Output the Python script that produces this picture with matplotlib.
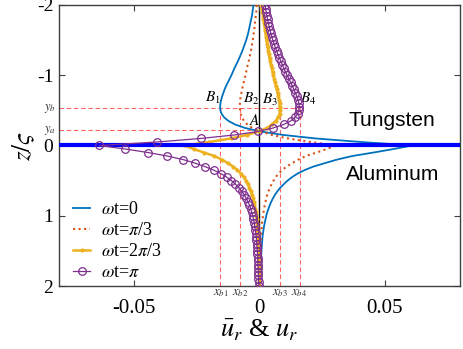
import numpy as np
import matplotlib
matplotlib.use("AGG")
from matplotlib import pyplot as plt

plt.rcParams['font.family'] = 'serif'
plt.rcParams['font.serif'] = ['Liberation Serif', 'DejaVu Serif']
plt.rcParams['mathtext.fontset'] = 'stix'
plt.rcParams['axes.unicode_minus'] = False

# depth z/zeta, sampled every 0.05 from -2 (top) to 2 (bottom)
z = np.round(np.arange(-40, 41) * 0.05, 2)

# radial displacement (upper half = tungsten, lower half = aluminum)
u_0 = [-0.0024, -0.0026, -0.0028, -0.0030, -0.0033, -0.0036, -0.0039, -0.0042, -0.0045, -0.0049,
       -0.0053, -0.0058, -0.0063, -0.0068, -0.0074, -0.0080, -0.0086, -0.0093, -0.0100, -0.0106,
       -0.0112, -0.0119, -0.0126, -0.0133, -0.0139, -0.0144, -0.0149, -0.0153, -0.0156, -0.0157,
       -0.0156, -0.0151, -0.0141, -0.0124, -0.0098, -0.0058, 0.0004, 0.0095, 0.0225, 0.0405, 0.0610,
       0.0535, 0.0455, 0.0370, 0.0310, 0.0262, 0.0215, 0.0180, 0.0152, 0.0130, 0.0112,
       0.0097, 0.0083, 0.0072, 0.0062, 0.0054, 0.0047, 0.0041, 0.0036, 0.0031, 0.0027,
       0.0024, 0.0021, 0.0018, 0.0016, 0.0014, 0.0012, 0.0011, 0.0010, 0.0009, 0.0008,
       0.0007, 0.0006, 0.0005, 0.0005, 0.0004, 0.0004, 0.0003, 0.0003, 0.0002, 0.0002]

u_pi3 = [-0.0011, -0.0012, -0.0013, -0.0015, -0.0016, -0.0018, -0.0019, -0.0021, -0.0023, -0.0025,
         -0.0027, -0.0029, -0.0032, -0.0034, -0.0037, -0.0040, -0.0043, -0.0047, -0.0050, -0.0053,
         -0.0056, -0.0060, -0.0063, -0.0066, -0.0070, -0.0072, -0.0075, -0.0077, -0.0078, -0.0079,
         -0.0078, -0.0075, -0.0070, -0.0062, -0.0049, -0.0029, 0.0003, 0.0050, 0.0115, 0.0203, 0.0305,
         0.0268, 0.0228, 0.0185, 0.0155, 0.0131, 0.0108, 0.0090, 0.0076, 0.0065, 0.0056,
         0.0048, 0.0042, 0.0036, 0.0031, 0.0027, 0.0024, 0.0021, 0.0018, 0.0016, 0.0014,
         0.0012, 0.0010, 0.0009, 0.0008, 0.0007, 0.0006, 0.0005, 0.0005, 0.0004, 0.0004,
         0.0003, 0.0003, 0.0003, 0.0002, 0.0002, 0.0002, 0.0002, 0.0001, 0.0001, 0.0001]

u_2pi3 = [0.0008, 0.0010, 0.0012, 0.0014, 0.0016, 0.0018, 0.0020, 0.0022, 0.0024, 0.0026,
          0.0028, 0.0030, 0.0032, 0.0035, 0.0037, 0.0040, 0.0043, 0.0046, 0.0049, 0.0052,
          0.0055, 0.0059, 0.0062, 0.0065, 0.0069, 0.0072, 0.0075, 0.0078, 0.0080, 0.0081,
          0.0081, 0.0080, 0.0074, 0.0065, 0.0050, 0.0030, -0.0002, -0.0050, -0.0115, -0.0200, -0.0300,
          -0.0262, -0.0222, -0.0180, -0.0150, -0.0127, -0.0105, -0.0088, -0.0074, -0.0063, -0.0054,
          -0.0047, -0.0040, -0.0035, -0.0030, -0.0026, -0.0023, -0.0020, -0.0017, -0.0015, -0.0013,
          -0.0011, -0.0010, -0.0009, -0.0008, -0.0007, -0.0006, -0.0005, -0.0004, -0.0004, -0.0003,
          -0.0003, -0.0003, -0.0002, -0.0002, -0.0002, -0.0001, -0.0001, -0.0001, -0.0001, -0.0001]

u_pi = [0.0022, 0.0024, 0.0027, 0.0029, 0.0032, 0.0035, 0.0038, 0.0041, 0.0045, 0.0049,
        0.0053, 0.0058, 0.0063, 0.0068, 0.0073, 0.0079, 0.0085, 0.0091, 0.0097, 0.0103,
        0.0110, 0.0117, 0.0124, 0.0131, 0.0137, 0.0143, 0.0149, 0.0154, 0.0157, 0.0159,
        0.0157, 0.0152, 0.0142, 0.0125, 0.0097, 0.0055, -0.0005, -0.0100, -0.0235, -0.0408, -0.0640,
        -0.0535, -0.0445, -0.0368, -0.0305, -0.0258, -0.0218, -0.0183, -0.0154, -0.0131, -0.0112,
        -0.0096, -0.0082, -0.0071, -0.0061, -0.0053, -0.0046, -0.0040, -0.0035, -0.0031, -0.0027,
        -0.0024, -0.0021, -0.0019, -0.0017, -0.0015, -0.0013, -0.0012, -0.0011, -0.0010, -0.0009,
        -0.0008, -0.0007, -0.0007, -0.0006, -0.0005, -0.0005, -0.0004, -0.0004, -0.0003, -0.0003]

# marked points
x_b = [-0.0156, -0.0078, 0.0081, 0.0160]
x_b_labels = [r'$x_{b1}$', r'$x_{b2}$', r'$x_{b3}$', r'$x_{b4}$']
y_b = -0.53
y_a = -0.217

fig = plt.figure(figsize=(4.63, 3.49), dpi=100)
ax = fig.add_axes([0.1274, 0.1805, 0.8661, 0.8052])

ax.axvline(0, color='k', lw=1.0, zorder=1)

dash = dict(color='#ff6464', lw=0.8, ls=(0, (4, 2.5)), zorder=1)
ax.plot([-0.08, x_b[3]], [y_b, y_b], **dash)
ax.plot([-0.08, 0.0], [y_a, y_a], **dash)
for xb in x_b:
    ax.plot([xb, xb], [y_b, 2], **dash)

ax.plot(u_0, z, color='#0072BD', lw=1.3, label=r'$\omega$t=0', zorder=3)
ax.plot(u_pi3, z, color='#D95319', lw=1.5, ls=':', label=r'$\omega$t=$\pi$/3', zorder=3)
ax.plot(u_2pi3, z, color='#EDB120', lw=1.8, marker='.', ms=4, label=r'$\omega$t=2$\pi$/3', zorder=3)
ax.axhline(0, color='#0000FF', lw=3, zorder=4)
ax.plot(u_pi, z, color='#7E2F8E', lw=0.9, marker='o', ms=5.5, mfc='none', mew=0.9,
        label=r'$\omega$t=$\pi$', zorder=5)

ax.set_xlim(-0.08, 0.08)
ax.set_ylim(2, -2)
ax.set_xticks([-0.05, 0, 0.05])
ax.set_xticklabels(['-0.05', '0', '0.05'])
ax.set_yticks([-2, -1, 0, 1, 2])
ax.tick_params(direction='in', length=4, width=0.8, top=True, right=True, color='#404040')
ax.tick_params(axis='x', pad=9, labelsize=15)
ax.tick_params(axis='y', pad=4, labelsize=14)
for s in ax.spines.values():
    s.set_color('#404040')
    s.set_linewidth(1.0)

ax.set_xlabel(r'$\bar{u}_r$ & $u_r$', fontsize=19, labelpad=0)
ax.set_ylabel(r'$z/\varsigma$', fontsize=18, labelpad=0)

# point labels
lab = dict(fontsize=11, ha='center', va='center')
ax.text(-0.0188, -0.67, r'$B_1$', **lab)
ax.text(-0.0033, -0.66, r'$B_2$', **lab)
ax.text(0.0043, -0.65, r'$B_3$', **lab)
ax.text(0.0195, -0.66, r'$B_4$', **lab)
ax.text(-0.0019, -0.36, r'$A$', **lab)

ax.text(-0.081, y_b, r'$y_b$', fontsize=9, ha='right', va='center', color='#303030')
ax.text(-0.081, y_a, r'$y_a$', fontsize=9, ha='right', va='center', color='#303030')
for xb, lb in zip(x_b, x_b_labels):
    ax.text(xb, 2.1, lb, fontsize=9, ha='center', va='center', color='#303030')

ax.text(0.053, -0.35, 'Tungsten', fontsize=15, family='Liberation Sans', ha='center', va='center')
ax.text(0.053, 0.41, 'Aluminum', fontsize=15, family='Liberation Sans', ha='center', va='center')

ax.legend(loc='lower left', bbox_to_anchor=(0.0, -0.035), frameon=False, fontsize=13,
          handlelength=0.9, handletextpad=0.6, labelspacing=0.22, borderpad=0.3)

fig.savefig('out.png', dpi=100)
